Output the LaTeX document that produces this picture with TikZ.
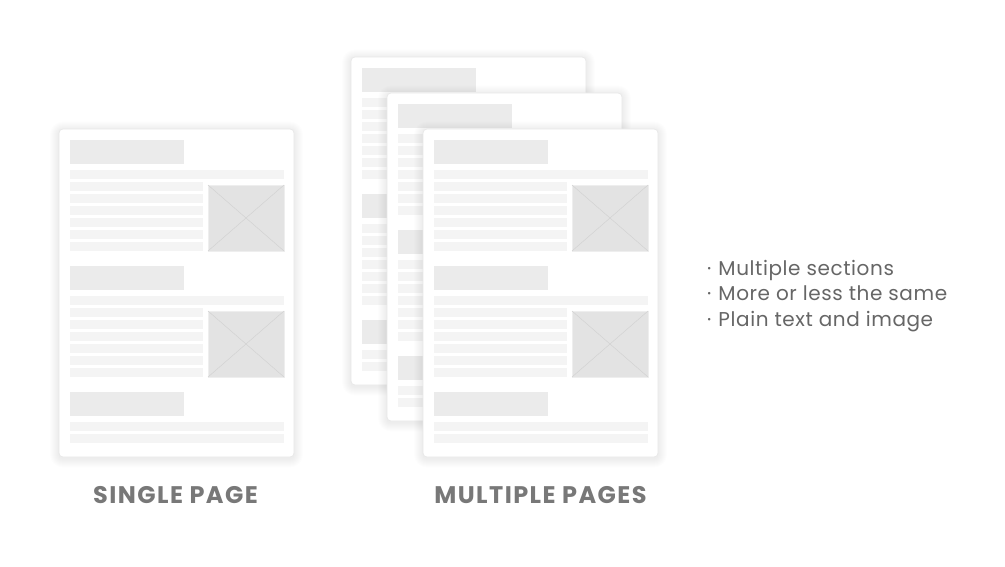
\documentclass[tikz,border=0pt]{standalone}
\usepackage{fontspec}
\setmainfont{Poppins}

\definecolor{pageedge}{HTML}{E8E8E8}
\definecolor{headfill}{HTML}{EBEBEB}
\definecolor{linefill}{HTML}{F4F4F4}
\definecolor{imgfill}{HTML}{E3E3E3}
\definecolor{imgedge}{HTML}{EEEEEE}
\definecolor{imgcross}{HTML}{D2D2D2}
\definecolor{labelgray}{HTML}{787878}
\definecolor{notegray}{HTML}{666666}

\tikzset{
  sheet/.style={fill=white, draw=pageedge, line width=0.7pt, rounded corners=4pt},
  shadowlayer/.style={fill=black, fill opacity=0.008, draw=none},
  headbar/.style={fill=headfill, draw=none},
  textbar/.style={fill=linefill, draw=none},
  picbox/.style={fill=imgfill, draw=imgedge, line width=0.8pt},
  piccross/.style={draw=imgcross, line width=0.5pt},
  caption/.style={font=\fontsize{24}{28}\selectfont\bfseries\addfontfeature{LetterSpace=6},
    text=labelgray},
  note/.style={font=\fontsize{20}{24}\selectfont\addfontfeature{LetterSpace=3},
    text=notegray, anchor=base west, inner sep=0pt},
  % one section: heading, full-width line, six short lines and an image placeholder
  pics/section/.style={code={
    \fill[headbar] (11,0) rectangle (125,24);
    \fill[textbar] (11,30) rectangle (225,39);
    \foreach \k in {0,...,5}
      \fill[textbar] (11,42+12*\k) rectangle (144,51+12*\k);
    \draw[picbox] (149,45) rectangle (225,111);
    \draw[piccross] (149,45) -- (225,111) (149,111) -- (225,45);
  }},
  % a whole page with a soft layered shadow and three sections
  pics/docpage/.style={code={
    \foreach \d in {1,...,9}{
      \pgfmathsetmacro\rr{4+\d}
      \fill[shadowlayer, rounded corners=\rr pt]
        (-\d,-\d+1.5) rectangle (235+\d,328+\d+1.5);
    }
    \draw[sheet] (0,0) rectangle (235,328);
    \pic at (0,11) {section};
    \pic at (0,137) {section};
    \fill[headbar] (11,263) rectangle (125,287);
    \fill[textbar] (11,293) rectangle (225,302);
    \fill[textbar] (11,305) rectangle (225,314);
  }}
}

\begin{document}
\begin{tikzpicture}[x=1pt, y=-1pt]
  \useasboundingbox[fill=white] (0,0) rectangle (1005,567);

  % single page
  \pic (single) at (59,129) {docpage};

  % stack of pages, back to front
  \pic (back) at (351,57) {docpage};
  \pic (middle) at (387,93) {docpage};
  \pic (front) at (423,129) {docpage};

  % captions
  \node[caption] (singlelabel) at (175.5,495) {SINGLE PAGE};
  \node[caption] (multilabel) at (540.5,495) {MULTIPLE PAGES};

  % notes
  \node[note] (n1) at (707,275) {·\hspace{7pt}Multiple sections};
  \node[note] (n2) at (707,300.5) {·\hspace{7pt}More or less the same};
  \node[note] (n3) at (707,326) {·\hspace{7pt}Plain text and image};
\end{tikzpicture}
\end{document}
